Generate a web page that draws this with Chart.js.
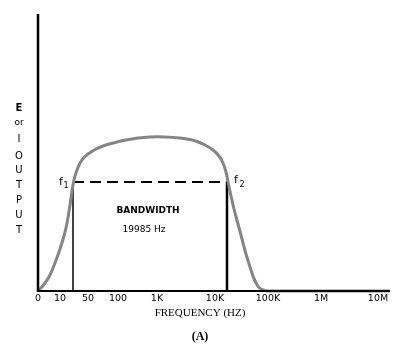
<!DOCTYPE html>
<html><head><meta charset="utf-8">
<script src="https://cdn.jsdelivr.net/npm/chart.js@4/dist/chart.umd.min.js"></script>
<style>html,body{margin:0;padding:0;background:#fff}#wrap{width:400px;height:352px}</style>
</head><body><div id="wrap"><canvas id="c" width="400" height="352"></canvas></div>
<script>
// x in plot units (hand-drawn, non-uniform decade spacing)
const tickLabels = ['0','10','50','100','1K','10K','100K','1M','10M'];
const tickPos    = [0, 2.2, 5.0, 8.0, 11.9, 17.7, 23.0, 28.3, 34.0];
const respX = [0, 0.3, 0.7, 1.2, 1.7, 2.2, 2.6, 2.9, 3.2, 3.4, 3.6, 3.9, 4.2, 4.6, 5.0, 5.7, 6.5, 7.5, 8.5, 9.7, 11.2, 12.7, 14.2, 15.2, 15.9, 16.7, 17.5, 18.1, 18.5, 18.8, 19.0, 19.3, 19.6, 20.0, 20.4, 20.8, 21.2, 21.5, 21.8, 22.1, 22.5, 23.0, 35.2];
const respY = [1, 3, 8, 16, 28, 42, 55, 68, 86, 100, 111, 121, 128, 133.5, 137, 141.5, 145, 148, 150.5, 152.5, 154, 154, 153, 151.5, 149.5, 146, 141, 135, 128, 119, 109, 95, 82, 67, 52, 37, 24, 15, 8, 3.5, 1, 0, 0];
const bandEdges = [3.5, 18.9];
const bandLevel = 109;
const bandText = ['BANDWIDTH', '19985 Hz'];
const yLetters = ['E','or','I','O','U','T','P','U','T'];

const pts = respX.map((x,i)=>({x, y: respY[i]}));
const overlay = {
  id:'overlay',
  afterDraw(chart){
    const {ctx, chartArea:a, scales:{x,y}} = chart;
    ctx.save();
    ctx.strokeStyle = '#000';
    ctx.lineWidth = 2.5;
    ctx.beginPath(); ctx.moveTo(a.left, a.top); ctx.lineTo(a.left, a.bottom+1); ctx.stroke();
    ctx.lineWidth = 2;
    ctx.beginPath(); ctx.moveTo(a.left, a.bottom); ctx.lineTo(a.right, a.bottom); ctx.stroke();
    ctx.fillStyle = '#000';
    ctx.textAlign='center'; ctx.textBaseline='middle';
    ctx.font = '9.5px "DejaVu Sans"';
    tickLabels.forEach((t,i)=>ctx.fillText(t, x.getPixelForValue(tickPos[i]), a.bottom+8));
    ctx.font = '11px "Liberation Serif"';
    ctx.fillText('FREQUENCY (HZ)', 200, 313);
    ctx.font = 'bold 12px "Liberation Serif"';
    ctx.fillText('(A)', 200, 337);
    // y label stack
    const ys = [108,123,139,156,170,185,200,215,230];
    yLetters.forEach((l,i)=>{
      ctx.font = (i===0?'bold 10px "DejaVu Sans"': (i===1?'9px "DejaVu Sans"':'10px "DejaVu Sans"'));
      ctx.fillText(l, 19, ys[i]);
    });
    // f labels
    const yb = y.getPixelForValue(bandLevel);
    ctx.font = '11px "DejaVu Sans"';
    ctx.fillText('f', x.getPixelForValue(bandEdges[0])-12, yb);
    ctx.fillText('f', x.getPixelForValue(bandEdges[1])+9, yb-2);
    ctx.font = '8px "DejaVu Sans"';
    ctx.fillText('1', x.getPixelForValue(bandEdges[0])-7, yb+4);
    ctx.fillText('2', x.getPixelForValue(bandEdges[1])+15, yb+3);
    ctx.font = 'bold 9px "DejaVu Sans"';
    const cx = (x.getPixelForValue(bandEdges[0])+x.getPixelForValue(bandEdges[1]))/2 - 2;
    ctx.fillText(bandText[0], cx, 211);
    ctx.font = '9px "DejaVu Sans"';
    ctx.fillText(bandText[1], cx-4, 230);
    ctx.restore();
  }
};
new Chart(document.getElementById('c'), {
  type:'scatter',
  data:{datasets:[
    {data: pts, showLine:true, borderColor:'#858585', borderWidth:3, pointRadius:0, tension:0.4, clip:false},
    {data:[{x:bandEdges[0],y:0},{x:bandEdges[0],y:bandLevel}], showLine:true, borderColor:'#000', borderWidth:1.5, pointRadius:0},
    {data:[{x:bandEdges[0],y:bandLevel},{x:bandEdges[1],y:bandLevel}], showLine:true, borderColor:'#000', borderWidth:2, borderDash:[11,6], pointRadius:0},
    {data:[{x:bandEdges[1],y:0},{x:bandEdges[1],y:bandLevel}], showLine:true, borderColor:'#000', borderWidth:2.5, pointRadius:0}
  ]},
  options:{
    responsive:false, animation:false, devicePixelRatio:1,
    layout:{padding:{left:38, top:14, right:10, bottom:61}},
    plugins:{legend:{display:false}, tooltip:{enabled:false}},
    scales:{
      x:{type:'linear', display:false, min:0, max:35.2},
      y:{type:'linear', display:false, min:0, max:277}
    }
  },
  plugins:[overlay]
});
</script></body></html>
